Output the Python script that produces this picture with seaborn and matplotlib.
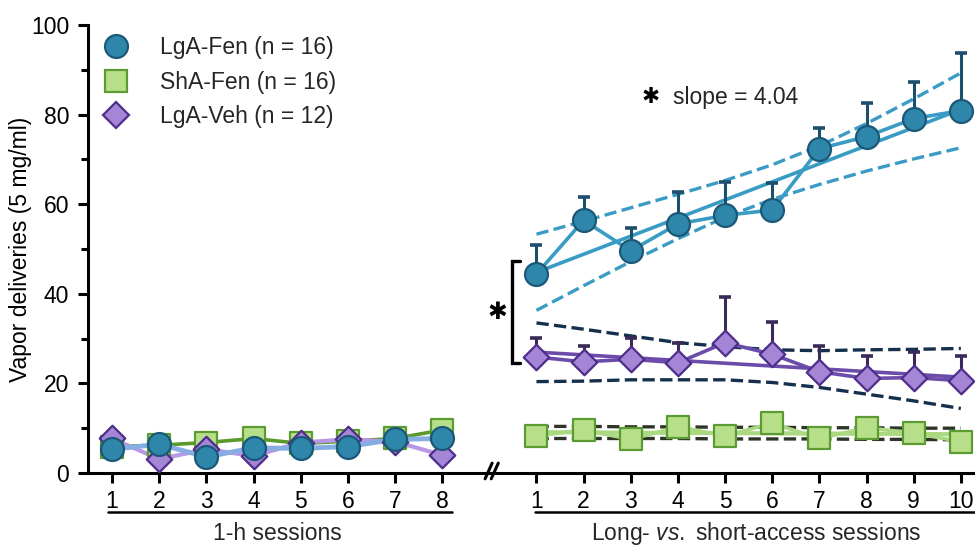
import numpy as np
import pandas as pd
import matplotlib.pyplot as plt
import matplotlib.transforms as mtransforms
from matplotlib.lines import Line2D
import seaborn as sns

# ========== Data ==========
hour_sessions = [1, 2, 3, 4, 5, 6, 7, 8]
long_sessions = [1, 2, 3, 4, 5, 6, 7, 8, 9, 10]

# 1-h sessions
lga_fen_1h = [5.3, 6.4, 3.6, 5.6, 5.5, 5.9, 7.5, 7.7]
sha_fen_1h = [5.9, 6.2, 6.8, 7.7, 6.6, 7.1, 7.7, 9.6]
lga_veh_1h = [7.7, 3.1, 5.3, 3.8, 6.8, 7.5, 7.0, 4.0]

# long- vs short-access sessions (mean, upper SEM)
lga_fen = [44.4, 56.4, 49.6, 55.6, 57.5, 58.7, 72.4, 75.1, 79.1, 80.9]
lga_fen_sem = [6.5, 5.3, 5.1, 7.1, 7.4, 6.0, 4.6, 7.5, 8.1, 12.8]
sha_fen = [8.3, 9.6, 7.5, 10.3, 8.3, 11.1, 7.7, 10.1, 8.9, 7.0]
lga_veh = [25.9, 24.8, 25.4, 24.6, 29.1, 26.5, 22.6, 21.1, 21.3, 20.6]
lga_veh_sem = [4.3, 3.5, 4.7, 4.5, 10.1, 7.3, 5.7, 5.1, 5.6, 5.6]

# confidence bands of the linear fits
lga_fen_ci_hi = [53.3, 56.2, 59.2, 62.2, 65.3, 68.8, 73.0, 78.0, 83.5, 89.3]
lga_fen_ci_lo = [36.3, 41.8, 47.2, 52.3, 57.1, 61.1, 64.4, 67.4, 70.1, 72.6]
lga_veh_ci_hi = [33.5, 32.1, 30.6, 29.1, 28.2, 27.5, 27.3, 27.5, 27.6, 27.8]
lga_veh_ci_lo = [20.4, 20.5, 20.8, 20.8, 20.8, 20.2, 19.1, 17.6, 16.1, 14.4]
sha_fen_ci_hi = [10.4, 10.4, 10.3, 10.3, 10.2, 10.2, 10.1, 10.1, 10.0, 10.0]
sha_fen_ci_lo = [7.7, 7.7, 7.7, 7.7, 7.6, 7.6, 7.6, 7.5, 7.5, 7.4]

legend_labels = ["LgA-Fen (n = 16)", "ShA-Fen (n = 16)", "LgA-Veh (n = 12)"]
slope_text = "slope = 4.04"

# ========== Style ==========
sns.set_theme(style="ticks")
plt.rcParams["font.family"] = ["Liberation Sans", "DejaVu Sans"]
plt.rcParams["mathtext.fontset"] = "custom"
plt.rcParams["mathtext.rm"] = "Liberation Sans"
plt.rcParams["mathtext.it"] = "Liberation Sans:italic"

FS = 16.5
blue_fill, blue_edge, blue_line, blue_err = "#2e87ab", "#1b5878", "#3a9cc4", "#1d4e6c"
blue_1h = "#86aee2"
green_fill, green_edge, green_1h, green_line, green_band = "#b7df8a", "#5c9b31", "#5a9a2a", "#abd982", "#2e3527"
purple_fill, purple_edge, purple_line, purple_err = "#a485d6", "#4f2e8a", "#6c4cab", "#3a2a58"
purple_1h, purple_band = "#b797e6", "#14304c"

fig = plt.figure(figsize=(9.75, 5.47), dpi=100)
ax = fig.add_axes([0.0903, 0.1353, 0.9097, 0.819])

# right block sits after a gap of one session
x_1h = np.array(hour_sessions)
x_long = np.array(long_sessions) + 9

# --- 1-h sessions ---
sns.lineplot(x=x_1h, y=sha_fen_1h, color=green_1h, lw=2.6, ax=ax, zorder=2)
sns.lineplot(x=x_1h, y=lga_veh_1h, color=purple_1h, lw=3.0, ax=ax, zorder=2)
sns.lineplot(x=x_1h, y=lga_fen_1h, color=blue_1h, lw=3.5, ax=ax, zorder=2)

sns.scatterplot(x=x_1h, y=sha_fen_1h, marker="s", s=15.5**2, color=green_fill,
                edgecolor=green_edge, linewidth=1.6, ax=ax, zorder=3)
sns.scatterplot(x=x_1h, y=lga_veh_1h, marker="D", s=13**2, color=purple_fill,
                edgecolor=purple_edge, linewidth=1.6, ax=ax, zorder=3)
sns.scatterplot(x=x_1h, y=lga_fen_1h, marker="o", s=16.5**2, color=blue_fill,
                edgecolor=blue_edge, linewidth=1.6, ax=ax, zorder=3)

# --- long vs short access: fits and confidence bands ---
ax.plot(x_long, lga_fen_ci_hi, ls="--", color=blue_line, lw=2.4, zorder=1.5)
ax.plot(x_long, lga_fen_ci_lo, ls="--", color=blue_line, lw=2.4, zorder=1.5)
ax.plot(x_long, lga_veh_ci_hi, ls="--", color=purple_band, lw=2.4, zorder=1.5)
ax.plot(x_long, lga_veh_ci_lo, ls="--", color=purple_band, lw=2.4, zorder=1.5)
ax.plot(x_long, sha_fen_ci_hi, ls="--", color=green_band, lw=2.4, zorder=1.5)
ax.plot(x_long, sha_fen_ci_lo, ls="--", color=green_band, lw=2.4, zorder=1.5)

sns.regplot(x=x_long, y=lga_fen, scatter=False, ci=None, ax=ax,
            line_kws=dict(color=blue_line, lw=2.6, zorder=2))
sns.regplot(x=x_long, y=lga_veh, scatter=False, ci=None, ax=ax,
            line_kws=dict(color=purple_line, lw=2.6, zorder=2))
sns.regplot(x=x_long, y=sha_fen, scatter=False, ci=None, ax=ax,
            line_kws=dict(color=green_line, lw=3.0, zorder=2))

# connecting lines
sns.lineplot(x=x_long, y=sha_fen, color=green_line, lw=2.6, ax=ax, zorder=2)
sns.lineplot(x=x_long, y=lga_veh, color=purple_line, lw=2.6, ax=ax, zorder=2)
sns.lineplot(x=x_long, y=lga_fen, color=blue_line, lw=2.6, ax=ax, zorder=2)

# upper SEM bars
ax.errorbar(x_long, lga_fen, yerr=[np.zeros(10), lga_fen_sem], fmt="none",
            ecolor=blue_err, elinewidth=2.2, capsize=4.5, capthick=2.6, zorder=2.2)
ax.errorbar(x_long, lga_veh, yerr=[np.zeros(10), lga_veh_sem], fmt="none",
            ecolor=purple_err, elinewidth=2.2, capsize=4.5, capthick=2.6, zorder=2.2)

sns.scatterplot(x=x_long, y=sha_fen, marker="s", s=15.5**2, color=green_fill,
                edgecolor=green_edge, linewidth=1.6, ax=ax, zorder=3, clip_on=False)
sns.scatterplot(x=x_long, y=lga_veh, marker="D", s=13**2, color=purple_fill,
                edgecolor=purple_edge, linewidth=1.6, ax=ax, zorder=3, clip_on=False)
sns.scatterplot(x=x_long, y=lga_fen, marker="o", s=16.5**2, color=blue_fill,
                edgecolor=blue_edge, linewidth=1.6, ax=ax, zorder=3, clip_on=False)

# ========== Axes ==========
ax.set_xlim(0.49, 19.3)
ax.set_ylim(0, 100)
sns.despine(ax=ax)
for side in ["left", "bottom"]:
    ax.spines[side].set_linewidth(2.2)
    ax.spines[side].set_color("black")

ax.set_xticks(list(x_1h) + list(x_long))
ax.set_xticklabels([str(s) for s in hour_sessions] + [str(s) for s in long_sessions])
ax.set_yticks([0, 20, 40, 60, 80, 100])
ax.set_yticks([10, 30, 50, 70, 90], minor=True)
ax.tick_params(axis="both", which="major", width=2.2, length=7, labelsize=FS,
               color="black", labelcolor="black")
ax.tick_params(axis="x", which="major", pad=5)
ax.tick_params(axis="y", which="major", pad=6.5)
ax.tick_params(axis="y", which="minor", width=2.2, length=5, color="black")
ax.set_xlabel("")
ax.set_ylabel("Vapor deliveries (5 mg/ml)", fontsize=FS, color="black")
ax.yaxis.set_label_coords(-0.063, 0.5)

# axis break mark
for off in [0.0, 0.13]:
    ax.plot([8.91 + off, 9.06 + off], [-1.3, 2.2], color="black", lw=2.2,
            clip_on=False, zorder=5)

# session group underlines and labels
trans = mtransforms.blended_transform_factory(ax.transData, ax.transAxes)
ax.plot([0.92, 8.21], [-0.087, -0.087], color="black", lw=1.8,
        transform=trans, clip_on=False)
ax.plot([9.97, 19.6], [-0.087, -0.087], color="black", lw=1.8,
        transform=trans, clip_on=False)
ax.text(4.5, -0.134, "1-h sessions", transform=trans, ha="center", va="center",
        fontsize=FS)
ax.text(14.66, -0.134, r"Long- $\it{vs.}$ short-access sessions", transform=trans,
        ha="center", va="center", fontsize=FS)

# significance bracket and stars
ax.plot([9.65, 9.48, 9.48, 9.65], [47.4, 47.4, 24.6, 24.6], color="black", lw=2.4,
        solid_joinstyle="miter")
ax.text(9.16, 36.0, "\u2731", ha="center", va="center", fontsize=17,
        family="DejaVu Sans", color="black")
ax.text(12.41, 84.0, "\u2731", ha="center", va="center", fontsize=15.5,
        family="DejaVu Sans", color="black")
ax.text(12.89, 83.9, slope_text, ha="left", va="center", fontsize=FS)

# legend
handles = [
    Line2D([], [], ls="none", marker="o", ms=16.5, mfc=blue_fill, mec=blue_edge, mew=1.6),
    Line2D([], [], ls="none", marker="s", ms=15.5, mfc=green_fill, mec=green_edge, mew=1.6),
    Line2D([], [], ls="none", marker="D", ms=13, mfc=purple_fill, mec=purple_edge, mew=1.6),
]
ax.legend(handles, legend_labels, loc="upper left", bbox_to_anchor=(0.0135, 0.975),
          frameon=False, fontsize=FS, borderpad=0, borderaxespad=0,
          handletextpad=1.22, labelspacing=0.5, handlelength=1.4)

fig.savefig("out.png", dpi=100)
